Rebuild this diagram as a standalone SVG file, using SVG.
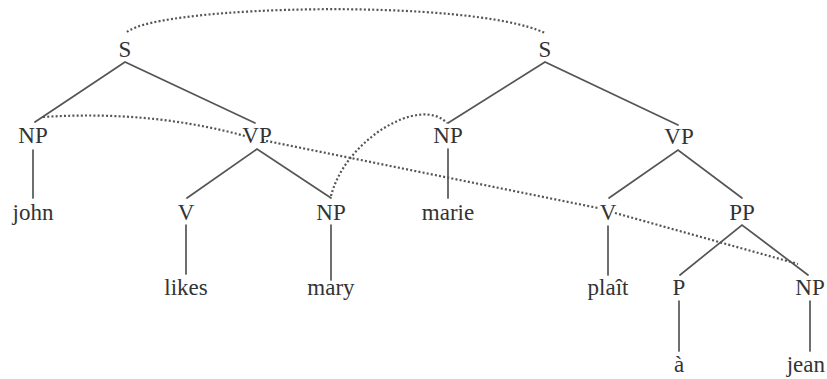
<svg xmlns="http://www.w3.org/2000/svg" width="827" height="379" viewBox="0 0 827 379">
<style>
.t text{font-size:23px;fill:#333;text-anchor:middle}
.e{stroke:#555;stroke-width:1.7;fill:none;stroke-linecap:round}
.d{stroke:#555;stroke-width:2.2;fill:none;stroke-dasharray:2 2.2}
</style>
<rect width="827" height="379" fill="#fff"/>
<g id="connectors">
<path class="e" d="M35,122 L125,62 L255,123"/>
<path class="e" d="M33,150 L33,198"/>
<path class="e" d="M187,198 L257,149 L331,198"/>
<path class="e" d="M186,225 L186,274"/>
<path class="e" d="M331,225 L331,280"/>
<path class="e" d="M448,123 L545,62 L678,125"/>
<path class="e" d="M448,149 L448,198"/>
<path class="e" d="M609,198 L678,150 L742,198"/>
<path class="e" d="M608,226 L608,275"/>
<path class="e" d="M680,275 L742,225 L808,275"/>
<path class="e" d="M679,301 L679,351"/>
<path class="e" d="M810,301 L810,351"/>
<path class="d" d="M127,32 C160,5 470,-2 545,33"/>
<path class="d" d="M43,117 Q150,110 245,136"/>
<path class="d" d="M262,140 L598,208"/>
<path class="d" d="M615,213 L798,264"/>
<path class="d" d="M331,196 C345,140 420,95 447,123"/>
</g>
<g class="t" font-family="Liberation Serif, DejaVu Serif, serif">
<g id="S1"><text x="125" y="57">S</text></g>
<g id="NP1"><text x="33" y="143">NP</text></g>
<g id="VP1"><text x="257" y="143">VP</text></g>
<g id="john"><text x="33" y="220">john</text></g>
<g id="V1"><text x="186" y="220">V</text></g>
<g id="NP2"><text x="331" y="220">NP</text></g>
<g id="likes"><text x="186" y="295">likes</text></g>
<g id="mary"><text x="331" y="295">mary</text></g>
<g id="S2"><text x="545" y="57">S</text></g>
<g id="NP3"><text x="448" y="143">NP</text></g>
<g id="VP2"><text x="679" y="144">VP</text></g>
<g id="marie"><text x="448" y="220">marie</text></g>
<g id="V2"><text x="608" y="220">V</text></g>
<g id="PP"><text x="742" y="220">PP</text></g>
<g id="plait"><text x="608" y="295">plaît</text></g>
<g id="P"><text x="679" y="295">P</text></g>
<g id="NP4"><text x="810" y="295">NP</text></g>
<g id="a"><text x="679" y="372">à</text></g>
<g id="jean"><text x="825" y="372" style="text-anchor:end">jean</text></g>
</g>
</svg>
